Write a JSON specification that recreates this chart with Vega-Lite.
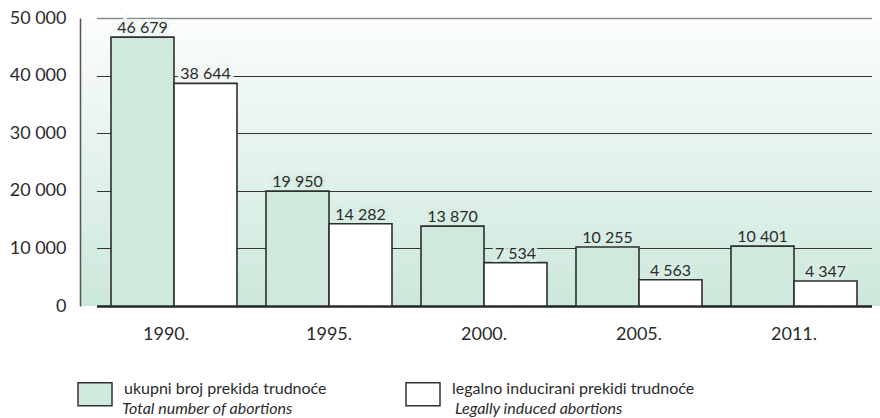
{
  "$schema": "https://vega.github.io/schema/vega-lite/v6.json",
  "autosize": {"type": "none"},
  "padding": {"left": 80, "top": 18, "right": 0, "bottom": 112},
  "width": 800,
  "height": 288,
  "view": {
    "stroke": null,
    "fill": {"gradient": "linear", "x1": 0, "y1": 0, "x2": 0, "y2": 1,
      "stops": [{"offset": 0, "color": "#fbfdfc"}, {"offset": 1, "color": "#cce8db"}]}
  },
  "config": {
    "font": "Lato",
    "locale": {"number": {"decimal": ",", "thousands": " ", "grouping": [3], "currency": ["", ""]}},
    "axis": {"labelFont": "Lato", "labelColor": "#2b2b2b", "labelFontSize": 18}
  },
  "data": {"values": [
    {"year": "1990.", "series": "ukupni broj prekida trudnoće", "series_en": "Total number of abortions", "value": 46679},
    {"year": "1990.", "series": "legalno inducirani prekidi trudnoće", "series_en": "Legally induced abortions", "value": 38644},
    {"year": "1995.", "series": "ukupni broj prekida trudnoće", "series_en": "Total number of abortions", "value": 19950},
    {"year": "1995.", "series": "legalno inducirani prekidi trudnoće", "series_en": "Legally induced abortions", "value": 14282},
    {"year": "2000.", "series": "ukupni broj prekida trudnoće", "series_en": "Total number of abortions", "value": 13870},
    {"year": "2000.", "series": "legalno inducirani prekidi trudnoće", "series_en": "Legally induced abortions", "value": 7534},
    {"year": "2005.", "series": "ukupni broj prekida trudnoće", "series_en": "Total number of abortions", "value": 10255},
    {"year": "2005.", "series": "legalno inducirani prekidi trudnoće", "series_en": "Legally induced abortions", "value": 4563},
    {"year": "2011.", "series": "ukupni broj prekida trudnoće", "series_en": "Total number of abortions", "value": 10401},
    {"year": "2011.", "series": "legalno inducirani prekidi trudnoće", "series_en": "Legally induced abortions", "value": 4347}
  ]},
  "encoding": {
    "x": {"field": "year", "type": "nominal",
      "scale": {"range": [16.5, 791.5], "paddingInner": 0.187, "paddingOuter": 0.0935},
      "axis": {"title": null, "labelAngle": 0, "ticks": false, "labelPadding": 19, "domainColor": "#222", "domainWidth": 2.5,
        "labelOffset": {"condition": {"test": "datum.value == '1990.'", "value": -8}, "value": 0}}},
    "xOffset": {"field": "series", "type": "nominal",
      "sort": ["ukupni broj prekida trudnoće", "legalno inducirani prekidi trudnoće"],
      "scale": {"paddingInner": 0, "paddingOuter": 0}},
    "y": {"field": "value", "type": "quantitative",
      "scale": {"domain": [0, 50000], "nice": false},
      "axis": {"title": null, "values": [0, 10000, 20000, 30000, 40000, 50000], "format": ",d",
        "ticks": false, "labelPadding": 14, "domainColor": "#555", "domainWidth": 1.5,
        "gridColor": {"condition": {"test": "datum.value == 50000", "value": "#8a8a8a"}, "value": "#333"},
        "gridWidth": {"condition": {"test": "datum.value == 50000", "value": 1.5}, "value": 1}, "gridOpacity": 1}}
  },
  "layer": [
    {
      "mark": {"type": "bar", "stroke": "#2e2e2e", "strokeWidth": 1.6},
      "encoding": {
        "color": {"field": "series", "type": "nominal",
          "scale": {"domain": ["ukupni broj prekida trudnoće", "legalno inducirani prekidi trudnoće"], "range": ["#cfe9dd", "#ffffff"]},
          "legend": {"title": null, "orient": "none", "direction": "horizontal", "legendX": -3, "legendY": 358,
            "symbolType": "M-1,-0.676H1V0.676H-1Z", "symbolSize": 1156, "symbolStrokeColor": "#333", "symbolStrokeWidth": 1.5,
            "symbolOpacity": 1, "labelFont": "Lato", "labelFontSize": 16, "labelColor": "#2b2b2b", "labelOffset": 11,
            "labelBaseline": "alphabetic", "labelLimit": 400, "columnPadding": 76}},
        "strokeDash": {"field": "series_en", "type": "nominal",
          "scale": {"domain": ["Total number of abortions", "Legally induced abortions"], "range": [[1, 0], [1, 0]]},
          "legend": {"title": null, "orient": "none", "direction": "horizontal", "legendX": -3, "legendY": 379,
            "symbolType": "M-1,-0.676H1V0.676H-1Z", "symbolSize": 1156, "symbolOpacity": 0, "symbolStrokeWidth": 0,
            "labelFont": "Lato", "labelFontSize": 16, "labelFontStyle": "italic", "labelColor": "#2b2b2b", "labelOffset": 11,
            "labelBaseline": "alphabetic", "labelLimit": 400, "columnPadding": 117}}
      }
    },
    {
      "mark": {"type": "text", "baseline": "alphabetic", "dy": -4, "fontSize": 16, "font": "Lato", "strokeWidth": 6, "fill": null},
      "encoding": {
        "text": {"field": "value", "type": "quantitative", "format": ",d"},
        "stroke": {"condition": {"test": "datum.value > 30000", "value": "#f0f7f3"}, "value": "#d8ede3"}
      }
    },
    {
      "mark": {"type": "text", "baseline": "alphabetic", "dy": -4, "fontSize": 16, "font": "Lato", "color": "#2b2b2b"},
      "encoding": {
        "text": {"field": "value", "type": "quantitative", "format": ",d"}
      }
    }
  ]
}
